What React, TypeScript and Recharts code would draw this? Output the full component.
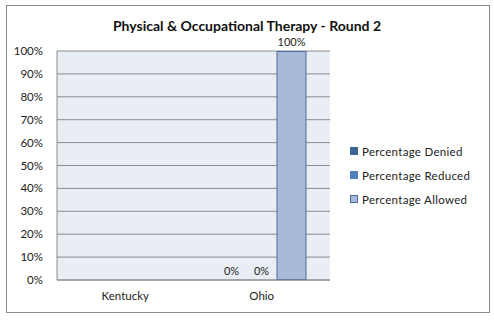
import { Bar, BarChart, CartesianGrid, XAxis, YAxis } from 'recharts';

const states = ['Kentucky', 'Ohio'];
const denied = [null, 0];
const reduced = [null, 0];
const allowed = [null, 100];
const yTicks = [0, 10, 20, 30, 40, 50, 60, 70, 80, 90, 100];

const series = [
  { key: 'denied', name: 'Percentage Denied', fill: '#3C6495', stroke: '#3C6495' },
  { key: 'reduced', name: 'Percentage Reduced', fill: '#4F81BD', stroke: '#4F81BD' },
  { key: 'allowed', name: 'Percentage Allowed', fill: '#A9BAD9', stroke: '#4A6C9B' },
];

const data = states.map((state, i) => ({
  state,
  denied: denied[i],
  reduced: reduced[i],
  allowed: allowed[i],
}));

const font = 'Lato, "Open Sans", sans-serif';

// draws the bar and its value label together, so zero-height bars still get "0%"
function BarWithLabel(props: any) {
  const { x, y, width, height, fill, stroke, value } = props;
  const v = Array.isArray(value) ? value[1] - value[0] : value;
  if (v == null || Number.isNaN(v)) return null;
  const h = Math.max(0, Number(height) || 0);
  return (
    <g>
      {h > 0 && (
        <rect
          x={x + 0.5}
          y={y + 0.5}
          width={width - 1}
          height={h - 1}
          fill={fill}
          stroke={stroke}
          strokeWidth={1}
        />
      )}
      <text
        x={x + width / 2}
        y={y - 5}
        textAnchor="middle"
        fill="#222"
        fontSize={11}
        fontFamily={font}
      >
        {`${v}%`}
      </text>
    </g>
  );
}

function LegendBox() {
  return (
    <div
      style={{
        position: 'absolute',
        left: 350,
        top: 139,
        fontFamily: font,
        fontSize: 11.5,
        color: '#222',
      }}
    >
      {series.map((s) => (
        <div key={s.key} style={{ display: 'flex', alignItems: 'center', height: 24 }}>
          <span
            style={{
              width: 6,
              height: 6,
              background: s.fill,
              border: `1px solid ${s.stroke}`,
              marginRight: 4,
            }}
          />
          <span style={{ letterSpacing: 0.3 }}>{s.name}</span>
        </div>
      ))}
    </div>
  );
}

export default function App() {
  return (
    <div style={{ position: 'absolute', left: 0, top: 0, width: 494, height: 321, background: '#fff' }}>
      <div
        style={{
          position: 'absolute',
          left: 6,
          top: 5,
          width: 482,
          height: 306,
          border: '1px solid #8C8C8C',
        }}
      />
      <div
        style={{
          position: 'absolute',
          left: 0,
          top: 17,
          width: 494,
          textAlign: 'center',
          fontFamily: font,
          fontWeight: 'bold',
          fontSize: 14,
          color: '#111',
        }}
      >
        Physical &amp; Occupational Therapy - Round 2
      </div>
      <div style={{ position: 'absolute', left: 0, top: 0 }}>
        <BarChart
          width={494}
          height={321}
          data={data}
          margin={{ top: 51, right: 164, left: 0, bottom: 11 }}
          barCategoryGap={23}
          barGap={0}
        >
          <CartesianGrid vertical={false} fill="#E9EDF4" stroke="#8C8C8C" />
          <XAxis
            dataKey="state"
            height={30}
            tickLine={false}
            tickMargin={6}
            stroke="#8C8C8C"
            tick={{ fill: '#222', fontSize: 11.5, fontFamily: font }}
          />
          <YAxis
            width={57}
            domain={[0, 100]}
            ticks={yTicks}
            interval={0}
            tickLine={false}
            tickMargin={8}
            stroke="#8C8C8C"
            tickFormatter={(v) => `${v}%`}
            tick={{ fill: '#222', fontSize: 11.5, fontFamily: font }}
          />
          {series.map((s) => (
            <Bar
              key={s.key}
              dataKey={s.key}
              name={s.name}
              fill={s.fill}
              stroke={s.stroke}
              shape={BarWithLabel}
              isAnimationActive={false}
            />
          ))}
        </BarChart>
      </div>
      <LegendBox />
    </div>
  );
}
